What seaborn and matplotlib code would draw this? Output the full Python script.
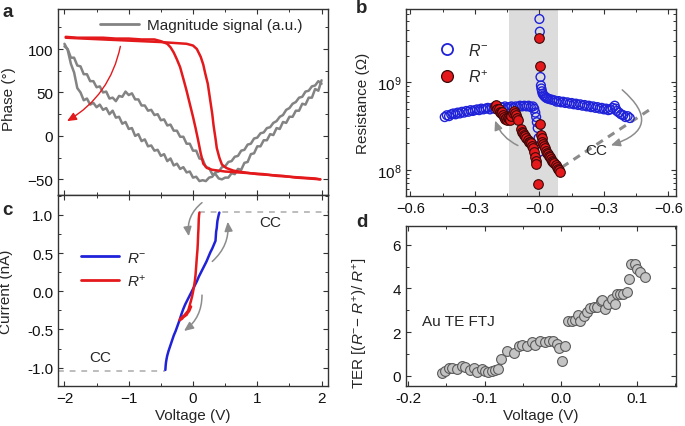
import numpy as np
import matplotlib
matplotlib.use("Agg")
import matplotlib.pyplot as plt
import seaborn as sns
from matplotlib.lines import Line2D
from matplotlib.ticker import MultipleLocator, FixedLocator, FixedFormatter, LogLocator, NullFormatter

# ---------------- panel a : PFM loops ----------------
sweep_v = [-2.00, -1.95, -1.90, -1.85, -1.80, -1.75, -1.70, -1.65, -1.60, -1.55,
           -1.50, -1.45, -1.40, -1.35, -1.30, -1.25, -1.20, -1.15, -1.10, -1.05,
           -1.00, -0.95, -0.90, -0.85, -0.80, -0.75, -0.70, -0.65, -0.60, -0.55,
           -0.50, -0.45, -0.40, -0.35, -0.30, -0.25, -0.20, -0.15, -0.10, -0.05,
           0.00, 0.05, 0.10, 0.15, 0.20, 0.25, 0.30, 0.35, 0.40, 0.45,
           0.50, 0.55, 0.60, 0.65, 0.70, 0.75, 0.80, 0.85, 0.90, 0.95,
           1.00, 1.05, 1.10, 1.15, 1.20, 1.25, 1.30, 1.35, 1.40, 1.45,
           1.50, 1.55, 1.60, 1.65, 1.70, 1.75, 1.80, 1.85, 1.90, 1.95, 2.00]
# steep branch, minimum near +0.15 V
mag_loop1 = [106, 99, 83, 73, 55, 50, 41, 43, 36, 38,
             33, 36, 30, 32, 25, 29, 21, 22, 14, 16,
             8, 9, 0, 2, -6, -4, -12, -11, -17, -16,
             -23, -21, -29, -26, -34, -32, -38, -36, -42, -41,
             -48, -47, -52, -51, -52, -48, -47, -42, -41, -36,
             -35, -30, -29, -24, -23, -17, -16, -10, -9, -3,
             -2, 3, 4, 9, 10, 15, 17, 22, 24, 30,
             32, 37, 39, 44, 45, 51, 52, 57, 58, 63, 60]
# gradual branch with bump, minimum near +0.45 V
mag_loop2 = [103, 100, 90, 90, 81, 80, 71, 71, 63, 63,
             56, 57, 50, 51, 43, 44, 40, 46, 45, 51,
             47, 49, 42, 42, 35, 35, 29, 30, 24, 25,
             18, 19, 12, 13, 6, 6, -1, -1, -9, -9,
             -17, -17, -26, -27, -36, -37, -44, -44, -49, -50,
             -48, -48, -43, -44, -38, -39, -31, -30, -21, -20,
             -12, -12, -5, -5, 2, 1, 9, 8, 16, 15,
             22, 22, 29, 29, 37, 36, 44, 44, 54, 52, 64]
phase1_v = [-1.98, -1.8, -1.6, -1.4, -1.2, -1.0, -0.8, -0.6, -0.5, -0.4,
            -0.35, -0.3, -0.25, -0.2, -0.17, -0.14, -0.1, -0.06, -0.03, 0.0,
            0.04, 0.08, 0.12, 0.16, 0.22, 0.3, 0.4, 0.5, 0.7, 0.9,
            1.1, 1.3, 1.5, 1.7, 1.9, 1.98]
phase1 = [114, 113, 113, 113, 112, 112, 111, 111, 109, 106,
          102, 96, 88, 79, 71, 63, 52, 40, 31, 22,
          9, -5, -20, -32, -37, -39, -40, -41, -42, -43,
          -44, -46, -47, -48, -49, -50]
phase2_v = [-1.98, -1.7, -1.4, -1.1, -0.8, -0.5, -0.3, -0.1, 0.0, 0.06,
            0.12, 0.16, 0.19, 0.23, 0.27, 0.30, 0.32, 0.35, 0.37, 0.41,
            0.45, 0.52, 0.63, 0.8, 1.0, 1.2, 1.4, 1.6, 1.8, 1.98]
phase2 = [113, 112, 111, 110, 109, 108, 107, 106, 104, 100,
          91, 82, 72, 60, 40, 25, 12, -3, -14, -25,
          -33, -37, -40, -42, -44, -45, -46, -48, -49, -50]

# ---------------- panel b : resistance loops (1e8 Ohm) ----------------
rminus_x = [-0.44, -0.43, -0.42, -0.41, -0.40, -0.39, -0.38, -0.37, -0.36, -0.35,
            -0.34, -0.33, -0.32, -0.31, -0.30, -0.29, -0.28, -0.27, -0.26, -0.25,
            -0.24, -0.23, -0.22, -0.21, -0.20, -0.19, -0.18, -0.17, -0.16, -0.15,
            -0.14, -0.13, -0.12, -0.11, -0.10, -0.09, -0.08, -0.07, -0.06, -0.05,
            -0.04, -0.03, -0.024, -0.019, -0.015, -0.012, -0.008, -0.004, 0.000,
            0.000, 0.002, 0.005, 0.007, 0.009, 0.012, 0.015, 0.02, 0.025, 0.03, 0.035, 0.04,
            0.05, 0.06, 0.07, 0.08, 0.09, 0.10, 0.11, 0.12, 0.13, 0.14,
            0.15, 0.16, 0.17, 0.18, 0.19, 0.20, 0.21, 0.22, 0.23, 0.24,
            0.25, 0.26, 0.27, 0.28, 0.29, 0.30, 0.31, 0.32, 0.33, 0.34,
            0.35, 0.355, 0.36, 0.37, 0.38, 0.39, 0.40, 0.41, 0.42]
rminus = [4.0, 4.2, 4.1, 4.3, 4.4, 4.3, 4.5, 4.4, 4.6, 4.5,
          4.7, 4.6, 4.8, 4.7, 4.8, 4.9, 4.8, 5.0, 4.9, 5.0,
          5.1, 4.9, 5.1, 5.0, 5.2, 5.0, 5.2, 5.1, 5.3, 5.1,
          5.2, 5.3, 5.1, 5.3, 5.2, 5.4, 5.3, 5.4, 5.3, 5.4,
          5.2, 5.3, 5.0, 4.5, 4.0, 3.5, 3.0, 2.3, 1.6,
          53, 38, 11.5, 9.2, 8.5, 7.9, 7.4, 7.1, 6.9, 6.7, 6.6, 6.5,
          6.4, 6.3, 6.2, 6.0, 6.1, 5.9, 6.0, 5.8, 5.9, 5.7,
          5.8, 5.6, 5.7, 5.5, 5.6, 5.4, 5.5, 5.3, 5.4, 5.2,
          5.3, 5.1, 5.2, 5.0, 5.1, 4.9, 5.0, 4.8, 4.9, 5.1,
          5.4, 5.0, 4.7, 4.5, 4.3, 4.2, 4.0, 4.1, 3.9]
rplus_x = [-0.205, -0.200, -0.195, -0.190, -0.185, -0.180, -0.175, -0.170, -0.165, -0.160,
           -0.155, -0.150, -0.145, -0.140, -0.135, -0.130, -0.125, -0.120, -0.115, -0.110,
           -0.105, -0.100,
           -0.085, -0.080, -0.075, -0.070, -0.065, -0.060, -0.055, -0.050, -0.045, -0.040,
           -0.035, -0.030, -0.025, -0.020, -0.017, -0.014, -0.008,
           0.000, 0.002, 0.005, 0.008, 0.011, 0.014, 0.018, 0.022, 0.026, 0.030,
           0.035, 0.040, 0.045, 0.050, 0.055, 0.060, 0.065, 0.070, 0.075, 0.080,
           0.085, 0.090, 0.095]
rplus = [5.3, 5.5, 5.0, 4.9, 4.6, 4.4, 4.6, 4.2, 4.0, 3.8,
         3.9, 3.7, 3.9, 3.8, 3.7, 4.1, 4.5, 4.7, 4.4, 4.2,
         3.9, 3.7,
         2.9, 2.7, 2.6, 2.5, 2.4, 2.3, 2.2, 2.1, 2.05, 2.0,
         1.85, 1.75, 1.6, 1.4, 1.25, 1.15, 0.69,
         32, 15.5, 3.3, 2.5, 2.3, 2.1, 1.95, 1.85, 1.75, 1.65,
         1.55, 1.5, 1.45, 1.4, 1.33, 1.27, 1.22, 1.18, 1.13, 1.08,
         1.03, 0.98, 0.94]
b_ticks = [-0.6, -0.3, 0.0, 0.3, 0.6]
b_ticklabels = ["\u22120.6", "\u22120.3", "\u22120.0", "\u22120.3", "\u22120.6"]

# ---------------- panel c : I-V ----------------
iv_minus_v = [-0.43, -0.425, -0.42, -0.41, -0.40, -0.38, -0.36, -0.34, -0.32, -0.30,
              -0.27, -0.24, -0.21, -0.18, -0.15, -0.12, -0.09, -0.06, -0.03, 0.0,
              0.03, 0.06, 0.09, 0.12, 0.15, 0.18, 0.21, 0.24, 0.27, 0.30,
              0.33, 0.35, 0.355, 0.36, 0.37, 0.375, 0.38, 0.39, 0.40, 0.41]
iv_minus_i = [-1.03, -0.97, -0.93, -0.88, -0.84, -0.78, -0.73, -0.68, -0.63, -0.58,
              -0.52, -0.45, -0.38, -0.30, -0.23, -0.17, -0.12, -0.07, -0.02, 0.03,
              0.08, 0.13, 0.19, 0.24, 0.29, 0.34, 0.39, 0.45, 0.51, 0.56,
              0.62, 0.66, 0.72, 0.78, 0.83, 0.88, 0.92, 0.96, 1.0, 1.03]
iv_plus_v = [0.10, 0.095, 0.09, 0.088, 0.085, 0.08, 0.075, 0.07, 0.06, 0.05,
             0.04, 0.03, 0.015, 0.0, -0.015, -0.03, -0.05, -0.06, -0.07, -0.08,
             -0.09, -0.10, -0.12, -0.14, -0.16, -0.18, -0.20, -0.205, -0.19, -0.17,
             -0.15, -0.12, -0.10, -0.08, -0.06, -0.05, -0.04, -0.03]
iv_plus_i = [1.03, 1.0, 0.95, 0.9, 0.82, 0.74, 0.63, 0.55, 0.45, 0.33,
             0.22, 0.14, 0.06, -0.01, -0.07, -0.12, -0.18, -0.21, -0.24, -0.26,
             -0.27, -0.28, -0.30, -0.32, -0.33, -0.35, -0.36, -0.38, -0.37, -0.36,
             -0.34, -0.32, -0.31, -0.28, -0.26, -0.24, -0.22, -0.20]
cc_current = 1.04

# ---------------- panel d : TER ----------------
ter_v = [-0.156, -0.152, -0.147, -0.143, -0.136, -0.130, -0.125, -0.119, -0.114, -0.110,
         -0.104, -0.099, -0.095, -0.090, -0.086, -0.082, -0.079, -0.071, -0.062, -0.055,
         -0.051, -0.045, -0.038, -0.034, -0.027, -0.021, -0.016, -0.010, -0.005, -0.003,
         0.001, 0.006, 0.009, 0.014, 0.019, 0.022, 0.025, 0.030, 0.034, 0.038,
         0.043, 0.047, 0.052, 0.054, 0.058, 0.062, 0.067, 0.071, 0.073, 0.078,
         0.082, 0.087, 0.089, 0.092, 0.097, 0.100, 0.104, 0.110]
ter = [0.11, 0.23, 0.35, 0.35, 0.31, 0.46, 0.38, 0.28, 0.35, 0.15,
       0.31, 0.23, 0.15, 0.23, 0.26, 0.31, 0.76, 1.15, 1.04, 1.38,
       1.42, 1.35, 1.53, 1.41, 1.61, 1.53, 1.61, 1.61, 1.45, 1.27,
       0.66, 1.38, 2.52, 2.52, 2.55, 2.80, 2.52, 2.75, 2.91, 3.10,
       3.13, 3.13, 3.44, 3.47, 3.06, 3.29, 3.52, 3.29, 3.75, 3.75,
       3.75, 3.82, 4.43, 5.12, 5.12, 4.89, 4.74, 4.51]

RED = "#e3191c"
BLUE = "#1f22d8"
GRAY = "#838383"
ARROW = "#8c8c8c"
FS = 11

sns.set_style("ticks")
plt.rcParams["font.family"] = ["Liberation Sans", "DejaVu Sans"]
plt.rcParams["mathtext.fontset"] = "custom"
plt.rcParams["mathtext.rm"] = "Liberation Sans"
plt.rcParams["mathtext.it"] = "Liberation Sans:italic"
plt.rcParams["font.size"] = FS
plt.rcParams["axes.edgecolor"] = "#333333"
plt.rcParams["axes.linewidth"] = 1.0

fig = plt.figure(figsize=(6.85, 4.27), dpi=100)
ax_a = fig.add_axes([0.0847, 0.541, 0.3941, 0.4355])
ax_c = fig.add_axes([0.0847, 0.0937, 0.3941, 0.4473])
ax_b = fig.add_axes([0.5927, 0.5386, 0.3942, 0.438])
ax_d = fig.add_axes([0.5927, 0.0937, 0.3942, 0.3753])


def style(ax):
    ax.tick_params(which="both", direction="in", top=True, right=True, colors="#333333",
                   labelcolor="#111111", labelsize=FS)
    ax.tick_params(which="major", length=3.5, width=0.8)
    ax.tick_params(which="minor", length=2, width=0.7)


def curved(ax, start, end, rad, color=ARROW, lw=1.1):
    ax.annotate("", xy=end, xytext=start,
                arrowprops=dict(arrowstyle="-|>,head_length=0.5,head_width=0.22",
                                connectionstyle=f"arc3,rad={rad}", color=color, lw=lw,
                                shrinkA=0, shrinkB=0))


# ---- a ----
sns.lineplot(x=sweep_v, y=mag_loop1, sort=False, estimator=None, color=GRAY, lw=1.8, ax=ax_a)
sns.lineplot(x=sweep_v, y=mag_loop2, sort=False, estimator=None, color=GRAY, lw=1.8, ax=ax_a)
sns.lineplot(x=phase1_v, y=phase1, sort=False, estimator=None, color=RED, lw=1.8, ax=ax_a)
sns.lineplot(x=phase2_v, y=phase2, sort=False, estimator=None, color=RED, lw=1.8, ax=ax_a)
ax_a.set_xlim(-2.1, 2.1)
ax_a.set_ylim(-68, 146)
ax_a.xaxis.set_major_locator(MultipleLocator(1))
ax_a.xaxis.set_minor_locator(MultipleLocator(0.5))
ax_a.yaxis.set_major_locator(MultipleLocator(50))
ax_a.yaxis.set_minor_locator(MultipleLocator(25))
ax_a.set_xticklabels([])
ax_a.set_xlabel("")
ax_a.set_ylabel("Phase (\u00b0)", fontsize=FS)
ax_a.yaxis.set_label_coords(-0.155, 0.52)
ax_a.legend(handles=[Line2D([], [], color=GRAY, lw=2)], labels=["Magnitude signal (a.u.)"],
            loc="upper left", bbox_to_anchor=(0.12, 1.0), frameon=False, handlelength=2.6,
            handletextpad=0.5, fontsize=FS, borderaxespad=0.2)
curved(ax_a, (-1.13, 103), (-1.96, 17), -0.22, color=RED, lw=1.0)
style(ax_a)

# ---- c ----
ax_c.plot([0.10, 2.1], [cc_current, cc_current], ls=(0, (3, 3)), color="#bdbdbd", lw=1.4)
ax_c.plot([-2.1, -0.43], [-cc_current, -cc_current], ls=(0, (3, 3)), color="#bdbdbd", lw=1.4)
sns.lineplot(x=iv_minus_v, y=iv_minus_i, sort=False, estimator=None, color=BLUE, lw=1.8, ax=ax_c)
sns.lineplot(x=iv_plus_v, y=iv_plus_i, sort=False, estimator=None, color=RED, lw=1.8, ax=ax_c)
ax_c.set_xlim(-2.1, 2.1)
ax_c.set_ylim(-1.24, 1.26)
ax_c.xaxis.set_major_locator(MultipleLocator(1))
ax_c.xaxis.set_minor_locator(MultipleLocator(0.5))
ax_c.yaxis.set_major_locator(MultipleLocator(0.5))
ax_c.yaxis.set_minor_locator(MultipleLocator(0.25))
ax_c.yaxis.set_major_formatter(matplotlib.ticker.FormatStrFormatter("%.1f"))
ax_c.set_xlabel("Voltage (V)", fontsize=FS, labelpad=2)
ax_c.set_ylabel("Current (nA)", fontsize=FS)
ax_c.yaxis.set_label_coords(-0.167, 0.5)
ax_c.text(1.2, 0.91, "CC", ha="center", va="center", fontsize=FS)
ax_c.text(-1.44, -0.86, "CC", ha="center", va="center", fontsize=FS)
curved(ax_c, (0.14, 1.16), (-0.065, 0.72), 0.28)
curved(ax_c, (0.30, 0.39), (0.54, 0.91), 0.25)
curved(ax_c, (0.14, -0.05), (-0.14, -0.52), -0.25)
ax_c.legend(handles=[Line2D([], [], color=BLUE, lw=2), Line2D([], [], color=RED, lw=2)],
            labels=["$R^{-}$", "$R^{+}$"], loc="upper left", bbox_to_anchor=(0.035, 0.78),
            frameon=False, handlelength=2.5, handletextpad=0.5, labelspacing=0.5, fontsize=FS)
style(ax_c)

# ---- b ----
ax_b.axvspan(-0.14, 0.086, color="#dcdcdc", lw=0, zorder=0)
ax_b.plot([0.105, 0.52], [1.07e8, 5.0e8], ls=(0, (2.5, 2)), color=ARROW, lw=2.2, zorder=1)
sns.scatterplot(x=rminus_x, y=np.array(rminus) * 1e8, marker="o", s=40,
                facecolors="none", edgecolor=BLUE, linewidth=1.0, ax=ax_b, zorder=3)
sns.scatterplot(x=rplus_x, y=np.array(rplus) * 1e8, marker="o", s=48,
                color=RED, edgecolor="#3d0808", linewidth=0.8, ax=ax_b, zorder=4)
ax_b.set_yscale("log")
ax_b.set_xlim(-0.62, 0.635)
ax_b.set_ylim(5.0e7, 6.9e9)
ax_b.xaxis.set_major_locator(FixedLocator(b_ticks))
ax_b.xaxis.set_major_formatter(FixedFormatter(b_ticklabels))
ax_b.xaxis.set_minor_locator(MultipleLocator(0.15))
ax_b.yaxis.set_major_locator(FixedLocator([1e8, 1e9]))
ax_b.yaxis.set_minor_locator(LogLocator(base=10, subs=np.arange(2, 10)))
ax_b.yaxis.set_minor_formatter(NullFormatter())
ax_b.set_ylabel("Resistance (\u03a9)", fontsize=FS)
ax_b.yaxis.set_label_coords(-0.133, 0.5)
ax_b.text(0.264, 1.69e8, "CC", ha="center", va="center", fontsize=FS)
curved(ax_b, (-0.10, 1.89e8), (-0.206, 3.65e8), -0.2)
curved(ax_b, (0.385, 8.2e8), (0.332, 1.9e8), -0.88)
ax_b.legend(handles=[Line2D([], [], ls="", marker="o", ms=8, mfc="none", mec=BLUE, mew=1.3),
                     Line2D([], [], ls="", marker="o", ms=8.5, mfc=RED, mec="#3d0808", mew=0.9)],
            labels=["$R^{-}$", "$R^{+}$"], loc="upper left", bbox_to_anchor=(0.04, 0.9),
            frameon=False, handletextpad=0.3, labelspacing=0.65, fontsize=FS + 0.5)
style(ax_b)
ax_b.tick_params(axis="x", labelsize=FS - 0.5)

# ---- d ----
sns.scatterplot(x=ter_v, y=ter, marker="o", s=50, color="#c4c4c4", edgecolor="#5a5a5a",
                linewidth=0.8, ax=ax_d)
ax_d.set_xlim(-0.203, 0.151)
ax_d.set_ylim(-0.47, 6.87)
ax_d.xaxis.set_major_locator(MultipleLocator(0.1))
ax_d.xaxis.set_minor_locator(MultipleLocator(0.05))
ax_d.xaxis.set_major_formatter(matplotlib.ticker.FormatStrFormatter("%.1f"))
ax_d.yaxis.set_major_locator(MultipleLocator(2))
ax_d.yaxis.set_minor_locator(MultipleLocator(1))
ax_d.set_xlabel("Voltage (V)", fontsize=FS, labelpad=2)
ax_d.set_ylabel("TER [($R^{-}$\u2212 $R^{+}$)/ $R^{+}$]", fontsize=FS)
ax_d.yaxis.set_label_coords(-0.133, 0.40)
ax_d.text(-0.182, 2.52, "Au TE FTJ", ha="left", va="center", fontsize=FS)
style(ax_d)

for label, (x, y) in {"a": (0.011, 0.971), "b": (0.528, 0.979),
                      "c": (0.011, 0.508), "d": (0.528, 0.478)}.items():
    fig.text(x, y, label, fontsize=13.5, fontweight="bold", ha="center", va="center")

fig.savefig("out.png", dpi=100)
